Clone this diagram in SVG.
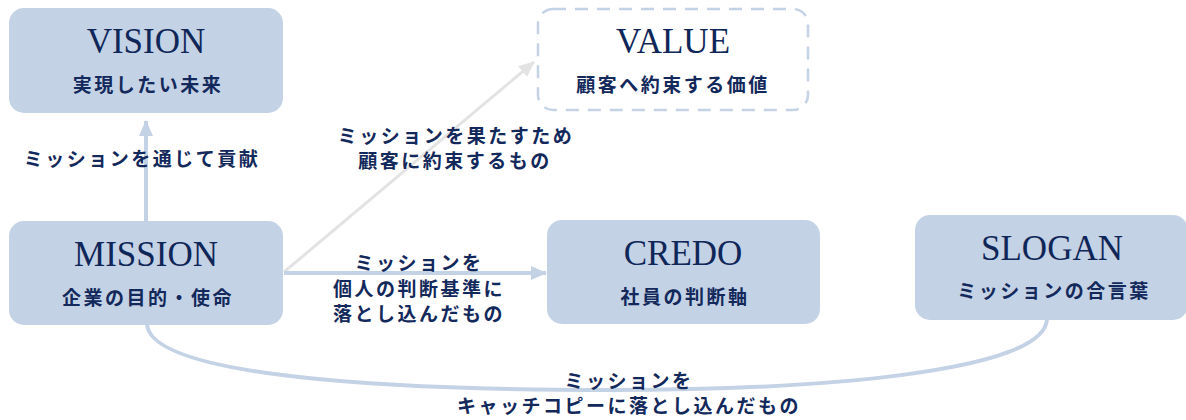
<svg xmlns="http://www.w3.org/2000/svg" width="1186" height="420" viewBox="0 0 1186 420">
<style>
.box{fill:#c4d2e5}
.dash{fill:#fff;stroke:#c4d2e5;stroke-width:2.5;stroke-dasharray:13 9}
.title{font-family:"Liberation Serif","Times New Roman",serif;font-size:35px;fill:#0f2658;text-anchor:middle}
.sub,.lbl{font-family:"Noto Sans CJK JP","Noto Sans",sans-serif;font-weight:bold;font-size:19px;fill:#13295b;text-anchor:middle;letter-spacing:2.5px}
.c{fill:none;stroke:#c4d2e5;stroke-width:4}
.g{fill:none;stroke:#e3e3e3;stroke-width:3}
</style>
<defs>
<marker id="ab" viewBox="0 0 16 14" refX="15" refY="7" markerWidth="16" markerHeight="14" markerUnits="userSpaceOnUse" orient="auto"><path d="M0,0 L16,7 L0,14 Z" fill="#c4d2e5"/></marker>
<marker id="ag" viewBox="0 0 16 14" refX="15" refY="7" markerWidth="16" markerHeight="14" markerUnits="userSpaceOnUse" orient="auto"><path d="M0,0 L16,7 L0,14 Z" fill="#e3e3e3"/></marker>
</defs>
<g id="connectors">
<path class="c" d="M146,221 L146,121" marker-end="url(#ab)"/>
<path class="g" d="M284,272 L534,62" marker-end="url(#ag)"/>
<path class="c" d="M284,273 L546,273" marker-end="url(#ab)"/>
<path class="c" d="M147,324 C150,378 400,390 610,390 C820,390 1045,372 1047,319"/>
<text class="lbl" x="142" y="166">ミッションを通じて貢献</text>
<text class="lbl" x="456" y="143">ミッションを果たすため</text>
<text class="lbl" x="455" y="168">顧客に約束するもの</text>
<text class="lbl" x="419" y="270">ミッションを</text>
<text class="lbl" x="419" y="296">個人の判断基準に</text>
<text class="lbl" x="419" y="321">落とし込んだもの</text>
<text class="lbl" x="629" y="388">ミッションを</text>
<text class="lbl" x="629" y="413">キャッチコピーに落とし込んだもの</text>
</g>
<g id="vision">
<rect class="box" x="9" y="8" width="274" height="105" rx="15"/>
<text class="title" x="146" y="53">VISION</text>
<text class="sub" x="148" y="92">実現したい未来</text>
</g>
<g id="value">
<rect class="dash" x="538" y="9" width="270" height="101" rx="15"/>
<text class="title" x="673" y="53">VALUE</text>
<text class="sub" x="673" y="92">顧客へ約束する価値</text>
</g>
<g id="mission">
<rect class="box" x="9" y="221" width="274" height="104" rx="15"/>
<text class="title" x="146" y="266">MISSION</text>
<text class="sub" x="148" y="305">企業の目的・使命</text>
</g>
<g id="credo">
<rect class="box" x="547" y="220" width="273" height="104" rx="15"/>
<text class="title" x="683" y="265">CREDO</text>
<text class="sub" x="685" y="304">社員の判断軸</text>
</g>
<g id="slogan">
<rect class="box" x="915" y="215" width="273" height="105" rx="15"/>
<text class="title" x="1052" y="260">SLOGAN</text>
<text class="sub" x="1054" y="298">ミッションの合言葉</text>
</g>
</svg>
